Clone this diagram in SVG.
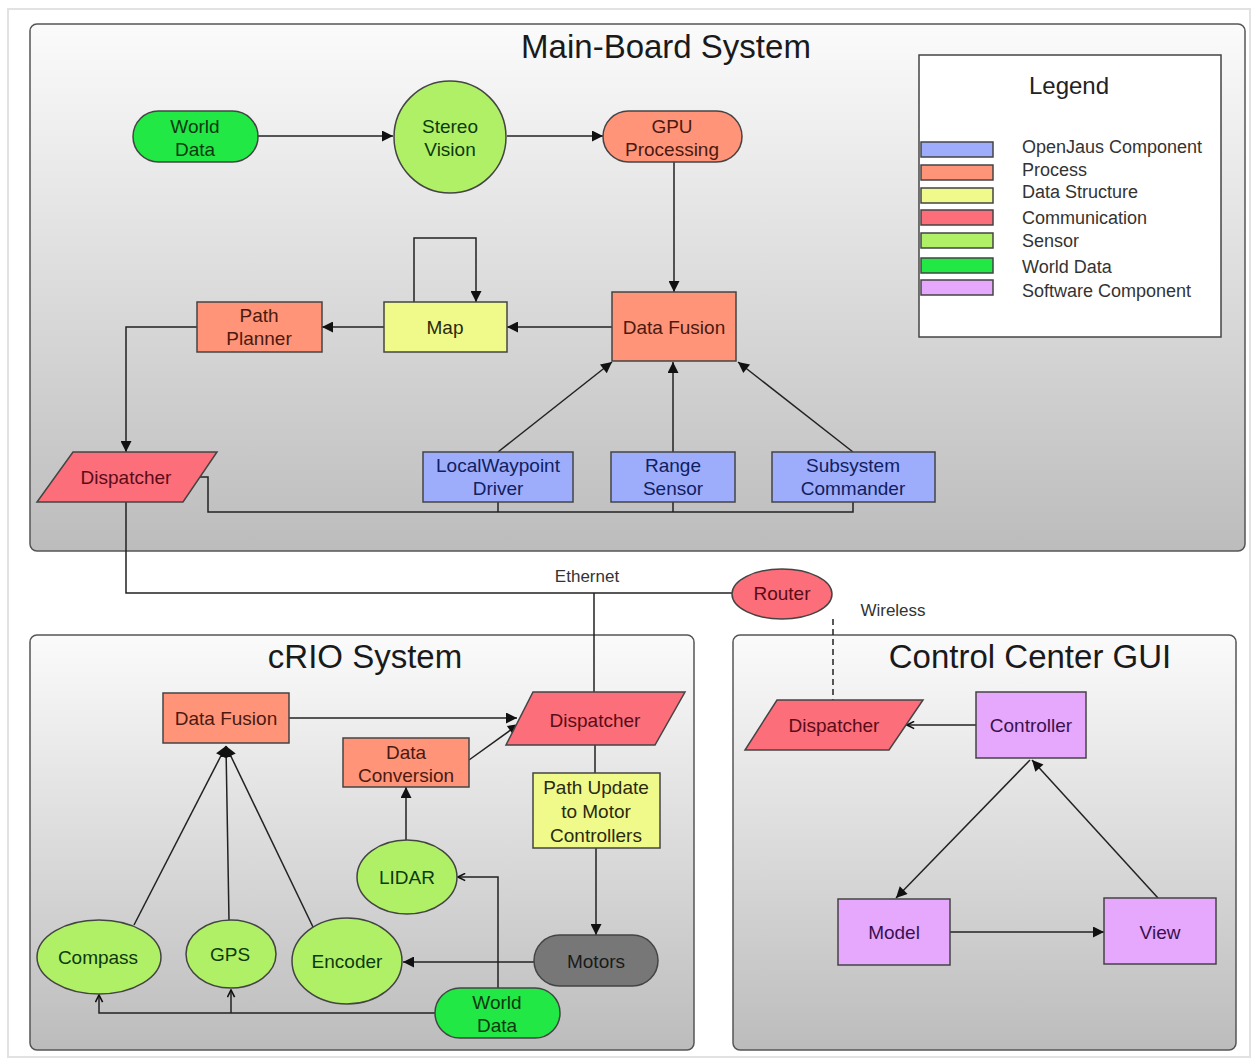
<svg xmlns="http://www.w3.org/2000/svg" width="1258" height="1063" viewBox="0 0 1258 1063">
<defs>
<linearGradient id="sys" x1="0" y1="0" x2="0" y2="1">
<stop offset="0" stop-color="#fbfbfb"/>
<stop offset="1" stop-color="#bcbcbc"/>
</linearGradient>
<marker id="arr" viewBox="0 0 10 10" refX="10" refY="5" markerWidth="14" markerHeight="11" markerUnits="userSpaceOnUse" orient="auto"><path d="M0,0 L10,5 L0,10 z" fill="#111"/></marker>
<marker id="open" viewBox="0 0 10 10" refX="9" refY="5" markerWidth="10" markerHeight="9" markerUnits="userSpaceOnUse" orient="auto"><path d="M1,1 L9,5 L1,9" fill="none" stroke="#111" stroke-width="1.8"/></marker>
</defs>
<style>
.sys{fill:url(#sys);stroke:#555;stroke-width:1.5}
.title{font-family:"Liberation Sans",Arial,sans-serif;font-size:33px;fill:#1a1a1a;text-anchor:middle}
.lbl{font-family:"Liberation Sans",Arial,sans-serif;font-size:19px;text-anchor:middle}
.small{font-family:"Liberation Sans",Arial,sans-serif;font-size:17px;fill:#333}
.n{stroke:#444;stroke-width:1.5}
.world{fill:#22e845}
.sensor{fill:#b0f066}
.proc{fill:#ff9479}
.ds{fill:#f0fa8a}
.comm{fill:#fb6e7a}
.oj{fill:#9dadfc}
.sw{fill:#e5a8fd}
.motor{fill:#777}
.tg{fill:#0c3a10}
.tp{fill:#4a1a10}
.tc{fill:#5a0c18}
.tb{fill:#102060}
.ty{fill:#2a2a10}
.tv{fill:#3a1050}
.c{fill:none;stroke:#222;stroke-width:1.5}
.leg{font-family:"Liberation Sans",Arial,sans-serif;font-size:18px;fill:#333}
</style>
<rect x="0" y="0" width="1258" height="1063" fill="#ffffff"/>
<rect x="8" y="9" width="1242" height="1048" fill="#ffffff" stroke="#e2e2e2" stroke-width="2"/>

<g id="main-board">
<rect class="sys" x="30" y="24" width="1215" height="527" rx="7"/>
<text class="title" x="666" y="58">Main-Board System</text>
</g>
<g id="crio-system">
<rect class="sys" x="30" y="635" width="664" height="415" rx="7"/>
<text class="title" x="365" y="668">cRIO System</text>
</g>
<g id="control-center">
<rect class="sys" x="733" y="635" width="503" height="415" rx="7"/>
<text class="title" x="1030" y="668">Control Center GUI</text>
</g>

<g id="legend">
<rect x="919" y="55" width="302" height="282" fill="#ffffff" stroke="#444" stroke-width="1.5"/>
<text x="1069" y="94" font-family="Liberation Sans, Arial, sans-serif" font-size="24" fill="#222" text-anchor="middle">Legend</text>
<rect class="n oj" x="921" y="142" width="72" height="15"/>
<rect class="n proc" x="921" y="165" width="72" height="15"/>
<rect class="n ds" x="921" y="188" width="72" height="15"/>
<rect class="n comm" x="921" y="210" width="72" height="15"/>
<rect class="n sensor" x="921" y="233" width="72" height="15"/>
<rect class="n world" x="921" y="258" width="72" height="15"/>
<rect class="n sw" x="921" y="280" width="72" height="15"/>
<text class="leg" x="1022" y="153">OpenJaus Component</text>
<text class="leg" x="1022" y="176">Process</text>
<text class="leg" x="1022" y="198">Data Structure</text>
<text class="leg" x="1022" y="224">Communication</text>
<text class="leg" x="1022" y="247">Sensor</text>
<text class="leg" x="1022" y="273">World Data</text>
<text class="leg" x="1022" y="297">Software Component</text>
</g>

<g id="connectors">
<line class="c" x1="258" y1="136" x2="393" y2="136" marker-end="url(#arr)"/>
<line class="c" x1="507" y1="136" x2="603" y2="136" marker-end="url(#arr)"/>
<line class="c" x1="674" y1="162" x2="674" y2="292" marker-end="url(#arr)"/>
<line class="c" x1="612" y1="327" x2="507" y2="327" marker-end="url(#arr)"/>
<polyline class="c" points="414,302 414,238 476,238 476,302" marker-end="url(#arr)"/>
<line class="c" x1="384" y1="327" x2="322" y2="327" marker-end="url(#arr)"/>
<polyline class="c" points="197,327 126,327 126,452" marker-end="url(#arr)"/>
<line class="c" x1="498" y1="452" x2="612" y2="362" marker-end="url(#arr)"/>
<line class="c" x1="673" y1="452" x2="673" y2="362" marker-end="url(#arr)"/>
<line class="c" x1="853" y1="452" x2="738" y2="362" marker-end="url(#arr)"/>
<polyline class="c" points="200,477 208,477 208,512 853,512 853,502"/>
<line class="c" x1="498" y1="502" x2="498" y2="512"/>
<line class="c" x1="673" y1="502" x2="673" y2="512"/>
<polyline class="c" points="126,502 126,593 732,593"/>
<line class="c" x1="594" y1="593" x2="594" y2="692"/>
<line class="c" x1="833" y1="619" x2="833" y2="700" stroke-dasharray="6,4"/>
<line class="c" x1="289" y1="718" x2="517" y2="718" marker-end="url(#arr)"/>
<line class="c" x1="469" y1="760" x2="519" y2="724" marker-end="url(#arr)"/>
<line class="c" x1="406" y1="841" x2="406" y2="787" marker-end="url(#arr)"/>
<polyline class="c" points="498,988 498,877 458,877" marker-end="url(#open)"/>
<line class="c" x1="595" y1="745" x2="595" y2="773"/>
<line class="c" x1="596" y1="848" x2="596" y2="935" marker-end="url(#arr)"/>
<line class="c" x1="534" y1="962" x2="403" y2="962" marker-end="url(#arr)"/>
<line class="c" x1="134" y1="925" x2="226" y2="746" marker-end="url(#arr)"/>
<line class="c" x1="229" y1="920" x2="226" y2="746" marker-end="url(#arr)"/>
<line class="c" x1="313" y1="927" x2="226" y2="746" marker-end="url(#arr)"/>
<polyline class="c" points="435,1013 99,1013 99,995" marker-end="url(#open)"/>
<line class="c" x1="231" y1="1013" x2="231" y2="990" marker-end="url(#open)"/>
<line class="c" x1="976" y1="725" x2="907" y2="725" marker-end="url(#open)"/>
<line class="c" x1="1030" y1="760" x2="896" y2="898" marker-end="url(#arr)"/>
<line class="c" x1="1158" y1="898" x2="1032" y2="760" marker-end="url(#arr)"/>
<line class="c" x1="950" y1="932" x2="1104" y2="932" marker-end="url(#arr)"/>
<text class="small" x="587" y="582" text-anchor="middle">Ethernet</text>
<text class="small" x="893" y="616" text-anchor="middle">Wireless</text>
</g>

<g id="world-data-main">
<rect class="n world" x="133" y="111" width="125" height="51" rx="25.5"/>
<text class="lbl tg" x="195" y="133">World</text>
<text class="lbl tg" x="195" y="156">Data</text>
</g>
<g id="stereo-vision">
<circle class="n sensor" cx="450" cy="137" r="56"/>
<text class="lbl tg" x="450" y="133">Stereo</text>
<text class="lbl tg" x="450" y="156">Vision</text>
</g>
<g id="gpu-processing">
<rect class="n proc" x="603" y="111" width="139" height="51" rx="25.5"/>
<text class="lbl tp" x="672" y="133">GPU</text>
<text class="lbl tp" x="672" y="156">Processing</text>
</g>
<g id="data-fusion-main">
<rect class="n proc" x="612" y="292" width="124" height="69"/>
<text class="lbl tp" x="674" y="334">Data Fusion</text>
</g>
<g id="map">
<rect class="n ds" x="384" y="302" width="123" height="50"/>
<text class="lbl ty" x="445" y="334">Map</text>
</g>
<g id="path-planner">
<rect class="n proc" x="197" y="302" width="125" height="50"/>
<text class="lbl tp" x="259" y="322">Path</text>
<text class="lbl tp" x="259" y="345">Planner</text>
</g>
<g id="dispatcher-main">
<polygon class="n comm" points="73,452 217,452 183,502 37,502"/>
<text class="lbl tc" x="126" y="484">Dispatcher</text>
</g>
<g id="localwaypoint-driver">
<rect class="n oj" x="423" y="452" width="150" height="50"/>
<text class="lbl tb" x="498" y="472">LocalWaypoint</text>
<text class="lbl tb" x="498" y="495">Driver</text>
</g>
<g id="range-sensor">
<rect class="n oj" x="611" y="452" width="124" height="50"/>
<text class="lbl tb" x="673" y="472">Range</text>
<text class="lbl tb" x="673" y="495">Sensor</text>
</g>
<g id="subsystem-commander">
<rect class="n oj" x="772" y="452" width="163" height="50"/>
<text class="lbl tb" x="853" y="472">Subsystem</text>
<text class="lbl tb" x="853" y="495">Commander</text>
</g>
<g id="router">
<ellipse class="n comm" cx="782" cy="594" rx="50" ry="25"/>
<text class="lbl tc" x="782" y="600">Router</text>
</g>

<g id="data-fusion-crio">
<rect class="n proc" x="163" y="693" width="126" height="50"/>
<text class="lbl tp" x="226" y="725">Data Fusion</text>
</g>
<g id="dispatcher-crio">
<polygon class="n comm" points="533,692 685,692 655,745 506,745"/>
<text class="lbl tc" x="595" y="727">Dispatcher</text>
</g>
<g id="data-conversion">
<rect class="n proc" x="343" y="738" width="126" height="49"/>
<text class="lbl tp" x="406" y="759">Data</text>
<text class="lbl tp" x="406" y="782">Conversion</text>
</g>
<g id="lidar">
<ellipse class="n sensor" cx="407" cy="877" rx="50" ry="37"/>
<text class="lbl tg" x="407" y="884">LIDAR</text>
</g>
<g id="path-update">
<rect class="n ds" x="533" y="773" width="127" height="75"/>
<text class="lbl ty" x="596" y="794">Path Update</text>
<text class="lbl ty" x="596" y="818">to Motor</text>
<text class="lbl ty" x="596" y="842">Controllers</text>
</g>
<g id="motors">
<rect class="n motor" x="534" y="935" width="124" height="51" rx="25.5"/>
<text class="lbl" fill="#1a1a1a" x="596" y="968">Motors</text>
</g>
<g id="encoder">
<ellipse class="n sensor" cx="347" cy="961" rx="55" ry="43"/>
<text class="lbl tg" x="347" y="968">Encoder</text>
</g>
<g id="gps">
<ellipse class="n sensor" cx="231" cy="954" rx="45" ry="34"/>
<text class="lbl tg" x="230" y="961">GPS</text>
</g>
<g id="compass">
<ellipse class="n sensor" cx="99" cy="957" rx="62" ry="37"/>
<text class="lbl tg" x="98" y="964">Compass</text>
</g>
<g id="world-data-crio">
<rect class="n world" x="435" y="988" width="125" height="50" rx="25"/>
<text class="lbl tg" x="497" y="1009">World</text>
<text class="lbl tg" x="497" y="1032">Data</text>
</g>

<g id="dispatcher-gui">
<polygon class="n comm" points="777,700 923,700 889,750 745,750"/>
<text class="lbl tc" x="834" y="732">Dispatcher</text>
</g>
<g id="controller">
<rect class="n sw" x="976" y="692" width="110" height="66"/>
<text class="lbl tv" x="1031" y="732">Controller</text>
</g>
<g id="model">
<rect class="n sw" x="838" y="899" width="112" height="66"/>
<text class="lbl tv" x="894" y="939">Model</text>
</g>
<g id="view">
<rect class="n sw" x="1104" y="898" width="112" height="66"/>
<text class="lbl tv" x="1160" y="939">View</text>
</g>
</svg>
